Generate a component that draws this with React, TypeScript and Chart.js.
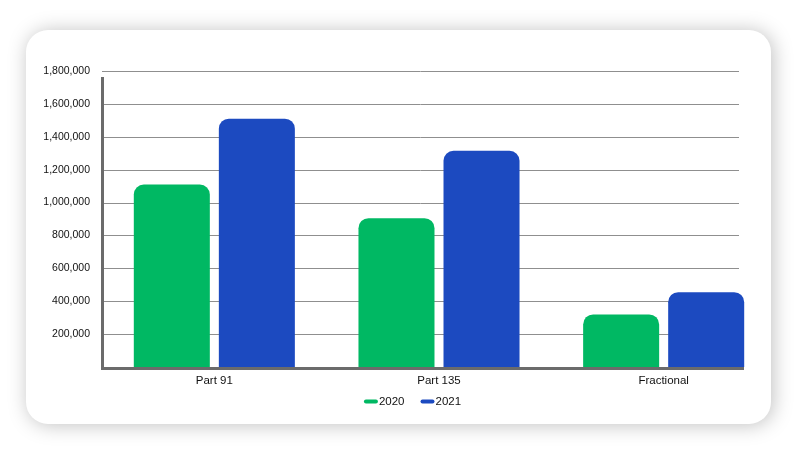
import React, { useEffect, useRef } from 'react';
import { Chart, registerables } from 'chart.js';

Chart.register(...registerables);

const categories = ['Part 91', 'Part 135', 'Fractional'];
const seriesLabels = ['2020', '2021'];
const values2020 = [1110000, 905000, 320000];
const values2021 = [1510000, 1315000, 455000];
const seriesColors = ['#00b863', '#1c4ac0'];
const yMin = 0;
const yMax = 1800000;
const yStep = 200000;

const FONT = '"Liberation Sans", Arial, Helvetica, sans-serif';

const axesPlugin = {
  id: 'customAxes',
  beforeDatasetsDraw(chart: any) {
    const { ctx, chartArea, scales } = chart;
    const y = scales.y;
    ctx.save();
    ctx.strokeStyle = '#8f8f8f';
    ctx.lineWidth = 1;
    y.ticks.forEach((t: any) => {
      if (t.value === 0) return;
      const py = Math.round(y.getPixelForValue(t.value)) + 0.5;
      ctx.beginPath();
      ctx.moveTo(chartArea.left, py);
      ctx.lineTo(739, py);
      ctx.stroke();
    });
    ctx.restore();
  },
  afterDatasetsDraw(chart: any) {
    const { ctx, chartArea } = chart;
    ctx.save();
    ctx.strokeStyle = '#6b6b6b';
    ctx.lineWidth = 3;
    ctx.lineCap = 'butt';
    ctx.beginPath();
    ctx.moveTo(chartArea.left + 0.5, chartArea.top + 6);
    ctx.lineTo(chartArea.left + 0.5, chartArea.bottom + 3);
    ctx.stroke();
    ctx.beginPath();
    ctx.moveTo(chartArea.left - 1, chartArea.bottom + 1.5);
    ctx.lineTo(744, chartArea.bottom + 1.5);
    ctx.stroke();
    ctx.restore();
  },
  afterDraw(chart: any) {
    const { ctx } = chart;
    const datasets = chart.data.datasets;
    ctx.save();
    ctx.font = `11.5px ${FONT}`;
    ctx.textBaseline = 'middle';
    ctx.textAlign = 'left';
    const markerW = 14;
    const textGap = 1;
    const itemGap = 16;
    const widths = datasets.map((d: any) => markerW + textGap + ctx.measureText(d.label).width);
    const total = widths.reduce((a: number, b: number) => a + b, 0) + itemGap * (datasets.length - 1);
    let x = 412.5 - total / 2;
    const yc = 401.5;
    datasets.forEach((d: any, i: number) => {
      ctx.strokeStyle = d.backgroundColor;
      ctx.lineWidth = 4;
      ctx.lineCap = 'round';
      ctx.beginPath();
      ctx.moveTo(x + 2, yc);
      ctx.lineTo(x + markerW - 2, yc);
      ctx.stroke();
      ctx.fillStyle = '#111';
      ctx.fillText(d.label, x + markerW + textGap, yc);
      x += widths[i] + itemGap;
    });
    ctx.restore();
  },
};

export default function App() {
  const canvasRef = useRef<HTMLCanvasElement | null>(null);

  useEffect(() => {
    if (!canvasRef.current) return;
    const chart = new Chart(canvasRef.current, {
      type: 'bar',
      data: {
        labels: categories,
        datasets: [
          {
            label: seriesLabels[0],
            data: values2020,
            backgroundColor: seriesColors[0],
            borderRadius: 10,
            borderSkipped: 'bottom',
            barPercentage: 0.894,
            categoryPercentage: 0.757,
          },
          {
            label: seriesLabels[1],
            data: values2021,
            backgroundColor: seriesColors[1],
            borderRadius: 10,
            borderSkipped: 'bottom',
            barPercentage: 0.894,
            categoryPercentage: 0.757,
          },
        ],
      },
      options: {
        animation: false,
        responsive: false,
        maintainAspectRatio: false,
        layout: { padding: { top: 71, right: 29, bottom: 0, left: 0 } },
        plugins: {
          legend: { display: false },
          tooltip: { enabled: false },
          title: { display: false },
        },
        scales: {
          x: {
            grid: { display: false, drawTicks: false },
            border: { display: false },
            ticks: {
              padding: 7,
              color: '#111',
              font: { family: FONT, size: 11.5 },
              maxRotation: 0,
            },
            afterFit: (scale: any) => {
              scale.height = 88;
            },
          },
          y: {
            min: yMin,
            max: yMax,
            grid: { display: false, drawTicks: false },
            border: { display: false },
            ticks: {
              stepSize: yStep,
              padding: 12,
              color: '#111',
              font: { family: FONT, size: 10.5 },
              callback: (v: any) => (Number(v) === 0 ? '' : Number(v).toLocaleString('en-US')),
            },
            afterFit: (scale: any) => {
              scale.width = 102;
            },
          },
        },
      },
      plugins: [axesPlugin],
    });
    return () => chart.destroy();
  }, []);

  return (
    <div style={{ position: 'fixed', left: 0, top: 0, width: 805, height: 455, background: '#ffffff', overflow: 'hidden' }}>
      <div
        style={{
          position: 'absolute',
          left: 26,
          top: 30,
          width: 745,
          height: 394,
          borderRadius: 22,
          background: '#ffffff',
          boxShadow: '2px 1px 20px rgba(0,0,0,0.25)',
        }}
      />
      <canvas
        ref={canvasRef}
        width={805}
        height={455}
        style={{ position: 'absolute', left: 0, top: 0, width: 805, height: 455 }}
      />
    </div>
  );
}
